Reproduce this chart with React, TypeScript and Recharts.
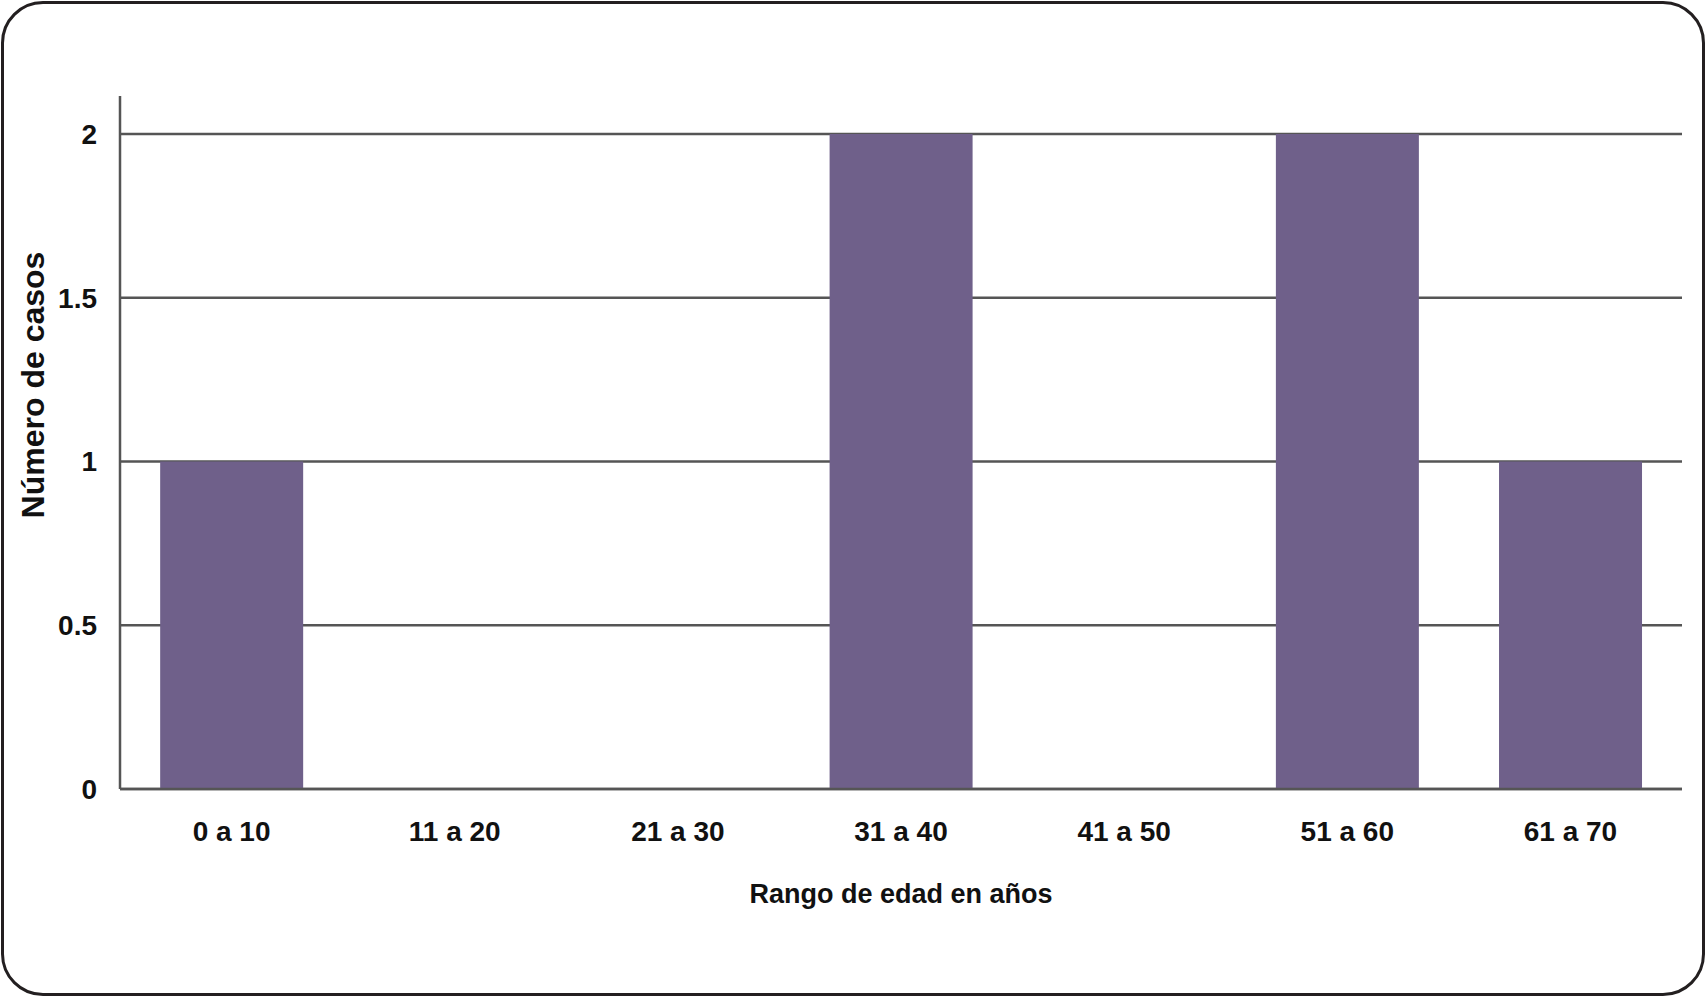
import { BarChart, Bar, XAxis, YAxis, CartesianGrid } from "recharts";

const rangos = ["0 a 10", "11 a 20", "21 a 30", "31 a 40", "41 a 50", "51 a 60", "61 a 70"];
const casos = [1, 0, 0, 2, 0, 2, 1];
const yTicks = [0, 0.5, 1, 1.5, 2];

const data = rangos.map((rango, i) => ({ rango, casos: casos[i] }));

const FONT = "'Liberation Sans', Arial, sans-serif";
const GRID = "#555555";

const XTitle = ({ viewBox }: any) => (
  <text
    x={viewBox.x + viewBox.width / 2}
    y={viewBox.y + 114}
    textAnchor="middle"
    fontFamily={FONT}
    fontWeight="bold"
    fontSize={27}
    fill="#111"
  >
    Rango de edad en años
  </text>
);

const YTitle = () => (
  <text
    x={33}
    y={385}
    transform="rotate(-90 33 385)"
    textAnchor="middle"
    dominantBaseline="central"
    fontFamily={FONT}
    fontWeight="bold"
    fontSize={32}
    fill="#111"
  >
    Número de casos
  </text>
);

export default function App() {
  return (
    <div style={{ position: "relative", width: 1707, height: 998, background: "#fff" }}>
      <style>{`body { margin: 0; }`}</style>
      <div
        style={{
          position: "absolute",
          left: 1,
          top: 1,
          width: 1704,
          height: 995,
          boxSizing: "border-box",
          border: "3px solid #231f20",
          borderRadius: 42,
        }}
      />
      <div style={{ position: "absolute", left: 0, top: 0 }}>
        <BarChart
          width={1707}
          height={998}
          data={data}
          margin={{ top: 96, right: 25, left: 0, bottom: 149 }}
          barCategoryGap="18%"
        >
          {/* only the tick values get grid lines, not the padded top */}
          <CartesianGrid vertical={false} horizontalValues={yTicks} stroke={GRID} strokeWidth={2.5} />
          <XAxis
            dataKey="rango"
            height={60}
            tickLine={false}
            tickSize={0}
            tickMargin={32}
            axisLine={{ stroke: GRID, strokeWidth: 2.5 }}
            tick={{ fontFamily: FONT, fontWeight: "bold", fontSize: 28, fill: "#111" }}
            label={{ content: XTitle }}
          />
          <YAxis
            width={120}
            domain={[0, 2.116]}
            ticks={yTicks}
            tickLine={false}
            tickSize={0}
            tickMargin={23}
            axisLine={{ stroke: GRID, strokeWidth: 2.5 }}
            tick={{ fontFamily: FONT, fontWeight: "bold", fontSize: 28, fill: "#111" }}
            label={{ content: YTitle }}
          />
          <Bar dataKey="casos" fill="#6f608a" isAnimationActive={false} />
        </BarChart>
      </div>
    </div>
  );
}
